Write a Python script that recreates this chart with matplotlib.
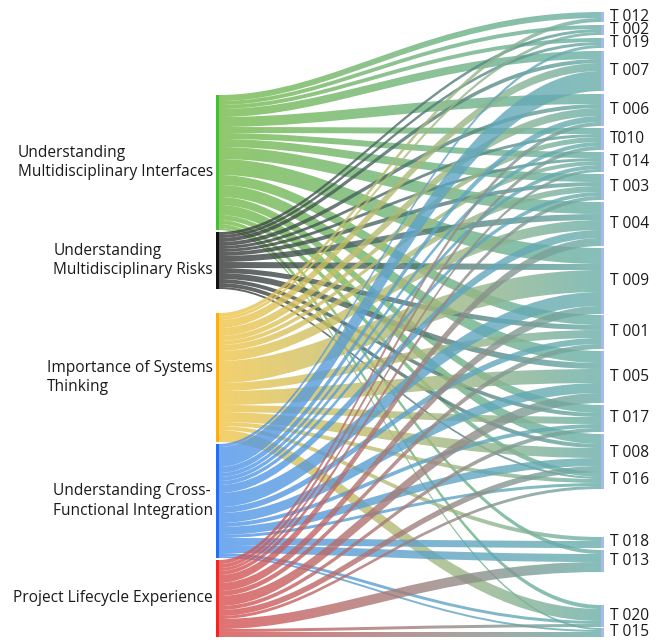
import matplotlib
matplotlib.use("Agg")
import matplotlib.pyplot as plt
import numpy as np
from matplotlib.path import Path
from matplotlib.patches import PathPatch, Rectangle

# source nodes (left) and target nodes (right)
sources = ["Understanding\nMultidisciplinary Interfaces",
           "Understanding\nMultidisciplinary Risks",
           "Importance of Systems\nThinking",
           "Understanding Cross-\nFunctional Integration",
           "Project Lifecycle Experience"]
targets = ["T 012", "T 002", "T 019", "T 007", "T 006", "T010", "T 014", "T 003",
           "T 004", "T 009", "T 001", "T 005", "T 017", "T 008", "T 016",
           "T 018", "T 013", "T 020", "T 015"]

# link values from each source to the targets (same order as targets)
interfaces = [6, 4, 4, 8, 10, 6, 6, 8, 12, 16, 10, 12, 8, 10, 5, 0, 4, 4, 2]
risks      = [0, 3, 3, 4, 4, 3, 3, 4, 6, 6, 5, 6, 4, 4, 2, 0, 0, 0, 0]
systems    = [4, 3, 0, 8, 8, 5, 4, 6, 10, 22, 8, 14, 7, 10, 4, 4, 0, 12, 0]
crossfunc  = [0, 0, 3, 20, 6, 4, 4, 4, 8, 14, 6, 10, 4, 8, 3, 7, 8, 3, 2]
lifecycle  = [0, 0, 0, 0, 4, 4, 3, 4, 8, 8, 5, 10, 4, 6, 3, 0, 10, 3, 5]
values = np.array([interfaces, risks, systems, crossfunc, lifecycle], dtype=float)

# layout (pixel space): node top positions, like node.y in a sankey layout
src_top = [95, 232, 313, 444, 560]
tgt_top = [12, 25, 38, 51, 94, 128, 152, 174, 202, 248, 315, 351, 405, 434,
           472, 537, 550, 605, 628]
scale = 1.0
x_src, x_tgt, node_w = 216, 601, 3

node_colors = ["#3cc528", "#111111", "#ffb000", "#1f6eff", "#ff2020"]
link_colors = ["#75ba4a", "#373737", "#f2c64a", "#5095ec", "#d95050"]
tgt_link_color = "#69aea8"
tgt_node_color = "#aab9ec"
link_alpha = 0.8

fig = plt.figure(figsize=(6.65, 6.42), dpi=100)
ax = fig.add_axes([0, 0, 1, 1])
ax.set_xlim(0, 665)
ax.set_ylim(642, 0)
ax.axis("off")

src_tot = values.sum(axis=1) * scale
tgt_tot = values.sum(axis=0) * scale
src_off = np.array(src_top, dtype=float)
tgt_off = np.array(tgt_top, dtype=float)

x0 = x_src + node_w
x1 = x_tgt
c_src = 0.3 * (x1 - x0)   # curve pulls away from the source quickly
c_tgt = 0.45 * (x1 - x0)  # and flattens out well before the target

def rgb(c):
    return np.array(matplotlib.colors.to_rgb(c))

c_end = rgb(tgt_link_color)
grad_t = np.linspace(0, 1, 256)

for i in range(len(sources)):
    for j in range(len(targets)):
        v = values[i, j] * scale
        if v <= 0:
            continue
        ys0, ys1 = src_off[i], src_off[i] + v
        yt0, yt1 = tgt_off[j], tgt_off[j] + v
        src_off[i] += v
        tgt_off[j] += v
        verts = [(x0, ys0), (x0 + c_src, ys0), (x1 - c_tgt, yt0), (x1, yt0),
                 (x1, yt1), (x1 - c_tgt, yt1), (x0 + c_src, ys1), (x0, ys1), (x0, ys0)]
        codes = [Path.MOVETO, Path.CURVE4, Path.CURVE4, Path.CURVE4,
                 Path.LINETO, Path.CURVE4, Path.CURVE4, Path.CURVE4, Path.CLOSEPOLY]
        patch = PathPatch(Path(verts, codes), facecolor="none", edgecolor="none",
                          transform=ax.transData)
        ax.add_patch(patch)
        c0 = rgb(link_colors[i])
        img = np.zeros((1, 256, 4))
        img[0, :, :3] = c0[None, :] * (1 - grad_t[:, None]) + c_end[None, :] * grad_t[:, None]
        img[0, :, 3] = link_alpha
        ymin, ymax = min(ys0, yt0), max(ys1, yt1)
        im = ax.imshow(img, extent=[x0, x1, ymax, ymin], aspect="auto",
                       interpolation="bilinear", zorder=2)
        im.set_clip_path(patch)

ax.set_xlim(0, 665)
ax.set_ylim(642, 0)

font = dict(family=["Open Sans", "DejaVu Sans"], size=11.2, color="#1a1a1a")

for i, name in enumerate(sources):
    ax.add_patch(Rectangle((x_src, src_top[i]), node_w, src_tot[i],
                           facecolor=node_colors[i], edgecolor="none", zorder=3))
    ax.text(x_src - 3, src_top[i] + src_tot[i] / 2, name, ha="right", va="center",
            multialignment="left", linespacing=1.3, zorder=4, **font)

for j, name in enumerate(targets):
    ax.add_patch(Rectangle((x_tgt, tgt_top[j]), node_w, tgt_tot[j],
                           facecolor=tgt_node_color, edgecolor="none", zorder=3))
    ax.text(x_tgt + 9, tgt_top[j] + tgt_tot[j] / 2, name, ha="left", va="center",
            zorder=4, **font)

fig.savefig("out.png", dpi=100)
